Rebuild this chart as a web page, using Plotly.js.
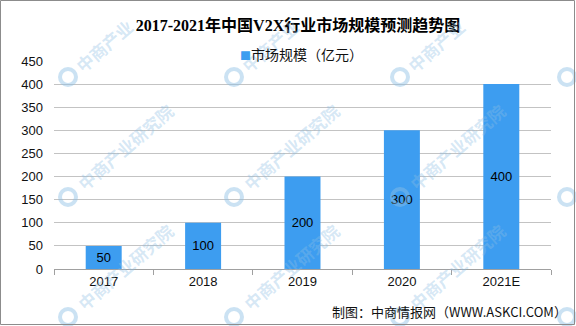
<!DOCTYPE html>
<html>
<head>
<meta charset="utf-8">
<script src="https://cdn.plot.ly/plotly-3.0.1.min.js"></script>
<style>html,body{margin:0;padding:0;background:#fff;}#chart{width:576px;height:326px;}</style>
</head>
<body>
<div id="chart"></div>
<script>
// ---- data ----
const categories = ['2017', '2018', '2019', '2020', '2021E'];
const marketSize = [50, 100, 200, 300, 400];
const seriesName = '市场规模（亿元）';
const yTickValues = [0, 50, 100, 150, 200, 250, 300, 350, 400, 450];
const titleText = '2017-2021年中国V2X行业市场规模预测趋势图';
const sourceText = '制图：中商情报网（WWW.ASKCI.COM）';
const watermarkText = '中商产业研究院';

// ---- layout helpers ----
const W = 576, H = 326, ML = 54, MR = 25, MT = 61, MB = 57;
const PW = W - ML - MR, PH = H - MT - MB;
const px = x => (x - ML) / PW;
const py = y => (H - MB - y) / PH;
const barColor = '#3d9df0';

const annotations = [];
const shapes = [];

// watermarks (logo + diagonal text); top row text is clipped by the image edge in the original
const wmX = [68, 234, 400, 567];
const wmY = [77, 197, 317];
const ang = 41 * Math.PI / 180, charLen = 19;
wmX.forEach(x => wmY.forEach((y, row) => {
  const t = row === 0 ? watermarkText.slice(0, 4) : watermarkText;
  if (x < 500) {
    const d = 10 + t.length * charLen / 2;
    annotations.push({
      xref: 'paper', yref: 'paper', x: px(x + d * Math.cos(ang)), y: py(y - d * Math.sin(ang)),
      xanchor: 'center', yanchor: 'middle', showarrow: false,
      text: t, textangle: -41,
      font: {family: 'Noto Sans CJK SC', size: 17, color: 'rgba(140,190,228,0.36)', weight: 'bold'}
    });
  }
  shapes.push({
    type: 'circle', xref: 'paper', yref: 'paper', layer: 'above',
    xsizemode: 'pixel', ysizemode: 'pixel', xanchor: px(x), yanchor: py(y),
    x0: -8, x1: 8, y0: -8, y1: 8,
    line: {color: 'rgba(140,190,228,0.45)', width: 4}, fillcolor: 'rgba(0,0,0,0)'
  });
  shapes.push({
    type: 'path', xref: 'paper', yref: 'paper', layer: 'above',
    xsizemode: 'pixel', ysizemode: 'pixel', xanchor: px(x), yanchor: py(y),
    path: 'M 1 1 L 1 9 A 8 8 0 0 0 9 1 Z',
    line: {width: 0}, fillcolor: 'rgba(240,140,110,0.45)'
  });
}));

// legend-like label
annotations.push({
  xref: 'paper', yref: 'paper', x: px(238), y: py(54), xanchor: 'left', yanchor: 'middle',
  showarrow: false,
  text: '<span style="color:' + barColor + ';font-size:11px">■</span>' + seriesName,
  font: {family: 'Noto Sans CJK SC', size: 14, color: '#111'}
});
// source
annotations.push({
  xref: 'paper', yref: 'paper', x: px(569), y: py(311), xanchor: 'right', yanchor: 'middle',
  showarrow: false, text: sourceText,
  font: {family: 'Noto Sans CJK SC', size: 13, color: '#111'}
});
// outer border
shapes.push({
  type: 'rect', xref: 'paper', yref: 'paper', layer: 'above',
  x0: px(0.5), x1: px(574.5), y0: py(0.5), y1: py(324.5),
  line: {color: '#8c8c8c', width: 1}, fillcolor: 'rgba(0,0,0,0)'
});

const trace = {
  type: 'bar', x: categories, y: marketSize, name: seriesName,
  marker: {color: barColor},
  text: marketSize.map(String), textposition: 'inside', insidetextanchor: 'middle',
  textangle: 0,
  textfont: {family: 'Liberation Sans', size: 13, color: '#000'},
  hoverinfo: 'none'
};

const layout = {
  width: W, height: H,
  margin: {l: ML, r: MR, t: MT, b: MB, pad: 0},
  paper_bgcolor: '#fff', plot_bgcolor: '#fff',
  showlegend: false,
  bargap: 0.638,
  title: {
    text: '<b>' + titleText + '</b>',
    xref: 'paper', x: px(298), xanchor: 'center',
    yref: 'container', y: 1 - 25 / H, yanchor: 'middle',
    font: {family: 'Liberation Serif, Noto Sans CJK SC', size: 16, color: '#000'}
  },
  xaxis: {
    type: 'category', tickson: 'boundaries', ticks: 'outside', ticklen: 5,
    tickcolor: '#a0a0a0', showline: true, linecolor: '#a0a0a0', linewidth: 1,
    showgrid: false, zeroline: false,
    tickfont: {family: 'Liberation Sans', size: 13, color: '#111'}
  },
  yaxis: {
    range: [0, 450], tickvals: yTickValues, ticktext: yTickValues.map(String),
    showgrid: true, gridcolor: '#c3c3c3', gridwidth: 1,
    showline: false, zeroline: false, ticks: '', ticklabelstandoff: 10,
    tickfont: {family: 'Liberation Sans', size: 13, color: '#111'}
  },
  annotations: annotations,
  shapes: shapes
};

Plotly.newPlot('chart', [trace], layout, {staticPlot: true, displayModeBar: false});
</script>
</body>
</html>
